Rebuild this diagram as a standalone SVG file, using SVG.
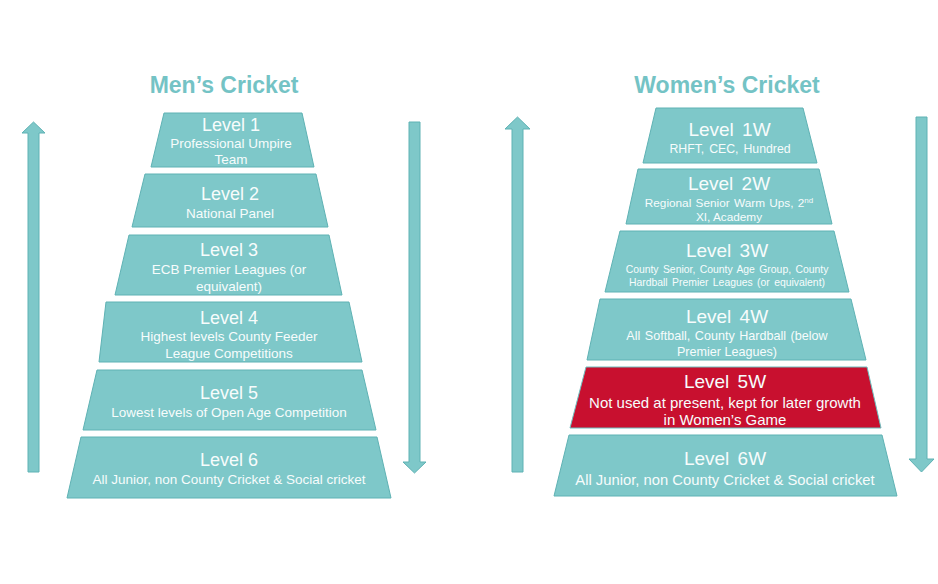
<svg xmlns="http://www.w3.org/2000/svg" width="938" height="584" viewBox="0 0 938 584">
<style>
.bg{fill:#ffffff}
.tier{fill:#7ec8c9;stroke:#5fb2b4;stroke-width:1}
.red{fill:#c8102f;stroke:#6fbdbe;stroke-width:1}
.arrow{fill:#7ec8c9;stroke:#5fb2b4;stroke-width:1}
.title{font-family:"Liberation Sans",Arial,sans-serif;font-weight:bold;font-size:23px;fill:#74c3c5;text-anchor:middle}
text{font-family:"Liberation Sans",Arial,sans-serif;fill:#f7fcfc;text-anchor:middle}
.lv{font-size:18px}
.lw{font-size:19px;word-spacing:3px}
.sub{font-size:13.5px}
</style>
<rect class="bg" width="938" height="584"/>
<text class="title" x="224" y="93">Men’s Cricket</text>
<text class="title" x="727" y="93">Women’s Cricket</text>
<g id="connectors">
<polygon class="arrow" points="28,472 28,133 22,133 33.5,122 45,133 39,133 39,472"/>
<polygon class="arrow" points="409,122 420,122 420,462 426,462 414.5,473 403,462 409,462"/>
<polygon class="arrow" points="512,472 512,129 505,129 517.5,117 530,129 523,129 523,472"/>
<polygon class="arrow" points="916,117 927,117 927,459 934,459 921.5,472 909,459 916,459"/>
</g>
<g id="m1"><polygon class="tier" points="164,113 302,113 314,167 151,167"/>
<text class="lv" x="231" y="131">Level 1</text>
<text class="sub" x="231" y="147.5">Professional Umpire</text>
<text class="sub" x="231" y="164">Team</text></g>
<g id="m2"><polygon class="tier" points="145,174 316,174 328,227 132,227"/>
<text class="lv" x="230" y="200">Level 2</text>
<text class="sub" x="230" y="218">National Panel</text></g>
<g id="m3"><polygon class="tier" points="129,235 329,235 342,295 115,295"/>
<text class="lv" x="229" y="256">Level 3</text>
<text class="sub" x="229" y="274">ECB Premier Leagues (or</text>
<text class="sub" x="229" y="291">equivalent)</text></g>
<g id="m4"><polygon class="tier" points="106,302 349,302 362,362 99,362"/>
<text class="lv" x="229" y="323.5">Level 4</text>
<text class="sub" x="229" y="341">Highest levels County Feeder</text>
<text class="sub" x="229" y="358">League Competitions</text></g>
<g id="m5"><polygon class="tier" points="97,370 362,370 376,430 83,430"/>
<text class="lv" x="229" y="398.5">Level 5</text>
<text class="sub" x="229" y="417">Lowest levels of Open Age Competition</text></g>
<g id="m6"><polygon class="tier" points="81,437 377,437 391,498 67,498"/>
<text class="lv" x="229" y="466">Level 6</text>
<text class="sub" x="229" y="484">All Junior, non County Cricket &amp; Social cricket</text></g>
<g id="w1"><polygon class="tier" points="656,108 803,108 817,163 643,163"/>
<text class="lw" x="729.5" y="136">Level 1W</text>
<text x="730" y="153" style="font-size:12.3px;word-spacing:1.5px">RHFT, CEC, Hundred</text></g>
<g id="w2"><polygon class="tier" points="638,169 819,169 832,224 626,224"/>
<text class="lw" x="729" y="190">Level 2W</text>
<text x="729" y="207" style="font-size:11.8px;word-spacing:1px">Regional Senior Warm Ups, 2<tspan dy="-4" style="font-size:8px">nd</tspan></text>
<text x="729" y="221" style="font-size:11.8px">XI, Academy</text></g>
<g id="w3"><polygon class="tier" points="620,231 834,231 849,292 605,292"/>
<text class="lw" x="727" y="257">Level 3W</text>
<text x="727" y="272.5" style="font-size:10.4px;word-spacing:1.5px">County Senior, County Age Group, County</text>
<text x="727" y="285.5" style="font-size:10.4px;word-spacing:1.5px">Hardball Premier Leagues (or equivalent)</text></g>
<g id="w4"><polygon class="tier" points="600,299 851,299 866,360 587,360"/>
<text class="lw" x="727" y="322.5">Level 4W</text>
<text x="727" y="339.5" style="font-size:12.6px;word-spacing:1px">All Softball, County Hardball (below</text>
<text x="727" y="356" style="font-size:12.6px">Premier Leagues)</text></g>
<g id="w5"><polygon class="red" points="586,367 867,367 881,428 570,428"/>
<text class="lw" x="725" y="388">Level 5W</text>
<text x="725" y="407.5" style="font-size:15px">Not used at present, kept for later growth</text>
<text x="725" y="424.5" style="font-size:15px">in Women’s Game</text></g>
<g id="w6"><polygon class="tier" points="569,435 882,435 897,496 554,496"/>
<text class="lw" x="725" y="465">Level 6W</text>
<text x="725" y="484.5" style="font-size:14.8px">All Junior, non County Cricket &amp; Social cricket</text></g>
</svg>
